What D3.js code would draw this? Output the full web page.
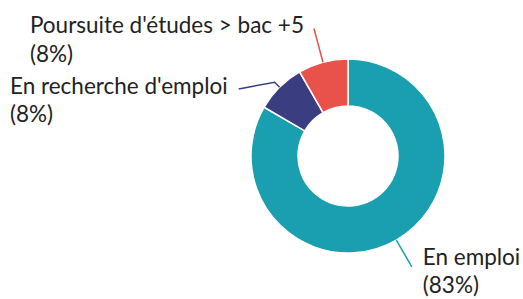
<!DOCTYPE html>
<html>
<head>
<meta charset="utf-8">
<script src="https://cdn.jsdelivr.net/npm/d3@7"></script>
<style>
  body { margin: 0; background: #fff; }
  text { font-family: Lato, sans-serif; fill: #222; }
</style>
</head>
<body>
<div id="donut"></div>
<script>
const width = 523, height = 299;
const cx = 348, cy = 156, outerR = 97, innerR = 50;

// data
const categories = ['En emploi', "En recherche d'emploi", "Poursuite d'études > bac +5"];
const values = [83.3, 8.3, 8.3];
const pctLabels = ['(83%)', '(8%)', '(8%)'];
const colors = ['#1a9fb0', '#3a3d80', '#e8524a'];

// label layout: elbow radius, extra leg after elbow, text side, text offset
const labelLayout = [
  { r: 128, leg: [0, 0], anchor: 'start', tx: 11, ty: -2 },
  { r: 104, leg: [-36, 6.6], anchor: 'end', tx: -11, ty: 5 },
  { r: 132, leg: [0, 0], anchor: 'end', tx: -10, ty: 5 }
];

const svg = d3.select('#donut')
  .append('svg')
  .attr('width', width)
  .attr('height', height)
const g = svg.append('g').attr('transform', `translate(${cx},${cy})`)

const pie = d3.pie().sort(null).value(d => d)
const arcs = pie(values)
const arc = d3.arc().innerRadius(innerR).outerRadius(outerR)

g.selectAll('.slice')
  .data(arcs)
  .enter()
  .append('path')
  .attr('d', arc)
  .attr('fill', (d, i) => colors[i])
  .attr('stroke', '#fff')
  .attr('stroke-width', 1.5)

const polar = (a, r) => [r * Math.sin(a), -r * Math.cos(a)];

arcs.forEach((d, i) => {
  const mid = (d.startAngle + d.endAngle) / 2;
  const lay = labelLayout[i];
  const p0 = polar(mid, outerR);
  const p1 = polar(mid, lay.r);
  const p2 = [p1[0] + lay.leg[0], p1[1] + lay.leg[1]];
  g.append('polyline')
    .attr('points', [p0, p1, p2].map(p => p.join(',')).join(' '))
    .attr('fill', 'none')
    .attr('stroke', colors[i])
    .attr('stroke-width', 1.5)

  const tx = p2[0] + lay.tx, ty = p2[1] + lay.ty;
  const t = g.append('text')
    .attr('x', tx)
    .attr('y', ty)
    .attr('font-size', 22.5)
  t.append('tspan').attr('x', tx).text(categories[i])
  t.append('tspan').attr('x', tx).attr('dy', 28.4).text(pctLabels[i])
  if (lay.anchor === 'end') {
    // block stays left-aligned, its widest line ends at the connector
    const w = t.node().getBBox().width;
    t.selectAll('tspan').attr('x', tx - w);
  }
});
</script>
</body>
</html>
